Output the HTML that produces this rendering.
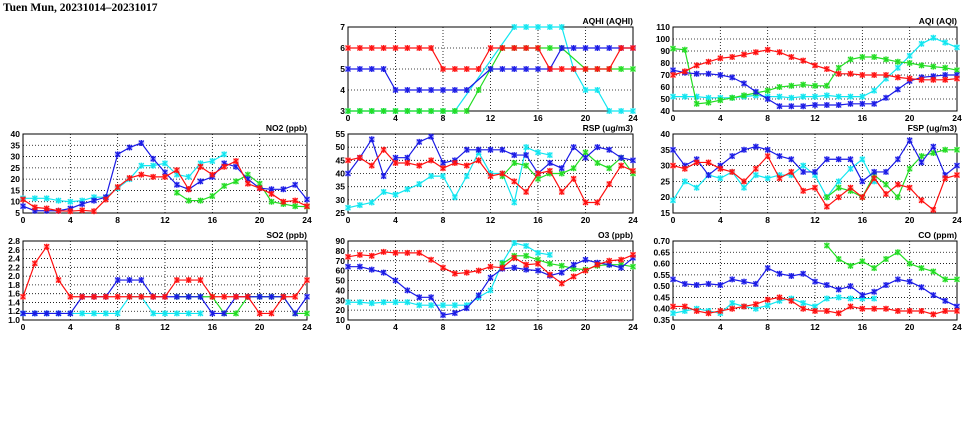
<!DOCTYPE html>
<html><head><meta charset="utf-8">
<style>
html,body{margin:0;padding:0;background:#fff;width:975px;height:447px;overflow:hidden}
svg{display:block}
text{font-family:"Liberation Sans",sans-serif;font-weight:bold;font-size:8.5px;fill:#000}
</style></head>
<body>
<svg id="chart" width="975" height="447" viewBox="0 0 975 447" xmlns="http://www.w3.org/2000/svg">
<text x="3" y="11" style="font-family:'Liberation Serif',serif;font-size:11.5px">Tuen Mun, 20231014–20231017</text>
</svg>
<script>
const N = null;
const hours = [0,1,2,3,4,5,6,7,8,9,10,11,12,13,14,15,16,17,18,19,20,21,22,23,24];
const xTicks = [0,4,8,12,16,20,24];

const aqhiRed   = [6,6,6,6,6,6,6,6,5,5,5,5,6,6,6,6,6,5,5,5,5,5,5,6,6];
const aqhiBlue  = [5,5,5,5,4,4,4,4,4,4,4,N,5,5,5,5,5,5,6,6,6,6,6,6,6];
const aqhiGreen = [3,3,3,3,3,3,3,3,3,3,3,4,5,6,6,6,6,6,6,N,5,5,5,5,5];
const aqhiCyan  = [3,3,3,3,3,3,3,3,3,3,N,N,N,N,7,7,7,7,7,5,4,4,3,3,3];
const aqhiTicks = [3,4,5,6,7];

const aqiRed   = [70,73,78,81,84,85,87,89,91,89,85,82,78,75,71,71,70,70,70,68,67,66,66,66,67];
const aqiBlue  = [74,72,71,71,70,68,63,56,50,44,44,44,45,45,45,46,46,46,51,58,65,68,69,70,70];
const aqiGreen = [92,91,46,47,49,51,53,55,57,60,61,62,61,61,76,83,85,85,83,81,80,78,77,76,74];
const aqiCyan  = [52,52,52,51,51,51,52,53,52,52,51,52,52,53,52,52,52,57,67,76,86,96,101,97,93];
const aqiTicks = [40,50,60,70,80,90,100,110];

const no2Blue  = [8,6,6,6,7,9,10.5,12,31,34,36,29,23,17.5,15.5,19,21,27,25.5,20,16,15.5,15.5,17.5,11];
const no2Red   = [11,7.5,7,6,5.8,6.2,5.8,11,16.5,20.5,22,21,21,24,15.5,25.5,22,25.5,28,18,16,13.5,10,10.5,8];
const no2Cyan  = [11.5,11.5,11.5,10.5,10,10.5,12,12,16,20,26,26,27,22,21,27,28,31,N,N,N,N,N,N,N];
const no2Green = [N,N,N,N,N,N,N,N,N,N,N,N,N,14,10.5,10.5,12.5,17,19,22,18,10,9,8,7.8];
const no2Ticks = [5,10,15,20,25,30,35,40];

const rspBlue  = [40,46,53,39,46,46,52,54,44,45,49,49,49,49,47,47,40,44,42,50,46,50,49,46,45];
const rspRed   = [45,46,43,49,44,44,43,45,42,44,43,45,39,40,37,33,40,41,33,38,29,29,36,43,41];
const rspCyan  = [27,28,29,33,32,34,36,39,39,31,39,48,40,40,29,50,48,47,N,N,N,N,N,N,N];
const rspGreen = [N,N,N,N,N,N,N,N,N,N,N,N,N,39,44,43,38,40,40,42,48,44,42,46,40];
const rspTicks = [25,30,35,40,45,50,55];

const fspBlue  = [35,30,32,27,30,33,35,36,35,33,32,28,28,32,32,32,25,28,28,32,38,31,36,27,30];
const fspRed   = [30,29,31,31,29,28,25,29,33,26,28,22,23,17,20,23,20,26,21,24,23,19,16,26,27];
const fspCyan  = [19,25,23,27,26,28,23,27,26,27,27,30,27,20,25,29,32,25,N,N,N,N,N,N,N];
const fspGreen = [N,N,N,N,N,N,N,N,N,N,N,N,N,20,23,22,20,27,24,20,29,33,34,35,35];
const fspTicks = [15,20,25,30,35,40];

const so2Red   = [1.53,2.29,2.67,1.91,1.53,1.53,1.53,1.53,1.53,1.53,1.53,1.53,1.53,1.91,1.91,1.91,1.53,1.53,1.53,1.53,1.15,1.15,1.53,1.53,1.91];
const so2Blue  = [1.15,1.15,1.15,1.15,1.15,1.53,1.53,1.53,1.91,1.91,1.91,1.53,1.53,1.53,1.53,1.53,1.15,1.15,1.53,1.53,1.53,1.53,1.53,1.15,1.53];
const so2Cyan  = [1.15,1.15,1.15,1.15,1.15,1.15,1.15,1.15,1.15,1.53,1.53,1.15,1.15,1.15,1.15,1.15,N,N,N,N,N,N,N,N,N];
const so2Green = [N,N,N,N,N,N,N,N,N,N,N,N,N,1.53,1.53,1.53,1.53,1.15,1.15,1.53,1.53,1.53,1.53,1.15,1.15];
const so2Ticks = [1.0,1.2,1.4,1.6,1.8,2.0,2.2,2.4,2.6,2.8];

const o3Red   = [74,76,75,79,78,78,78,71,63,57,58,60,64,63,73,66,67,56,47,54,60,66,70,71,76];
const o3Blue  = [64,64,61,58,50,40,33,33,15,17,22,35,53,62,63,61,60,55,58,66,71,68,66,63,73];
const o3Cyan  = [28,28,27,28,28,28,25,25,25,25,25,33,40,68,88,85,78,76,N,N,N,N,N,N,N];
const o3Green = [N,N,N,N,N,N,N,N,N,N,N,N,N,67,75,75,71,67,65,62,61,65,66,66,64];
const o3Ticks = [10,20,30,40,50,60,70,80,90];

const coBlue  = [.53,.51,.505,.51,.505,.53,.52,.51,.58,.555,.545,.555,.52,.505,.485,.50,.46,.475,.505,.53,.52,.495,.46,.435,.41];
const coRed   = [.41,.41,.39,.38,.39,.40,.41,.42,.44,.45,.435,.40,.39,.39,.38,.41,.40,.40,.40,.39,.39,.39,.375,.39,.39];
const coCyan  = [.38,.39,.40,.39,.38,.425,.41,.40,.415,.435,.445,.425,.41,.445,.45,.445,.445,.445,N,N,N,N,N,N,N];
const coGreen = [N,N,N,N,N,N,N,N,N,N,N,N,N,.68,.62,.59,.61,.58,.62,.65,.60,.58,.565,.53,.53];
const coTicks = [0.35,0.40,0.45,0.50,0.55,0.60,0.65,0.70];

const C = {red:'#ff1010', blue:'#1a1ae6', green:'#22dd22', cyan:'#11e6f0'};
const NS = 'http://www.w3.org/2000/svg';
const svg = document.getElementById('chart');
function mk(tag, attrs, parent){const e=document.createElementNS(NS,tag);for(const k in attrs)e.setAttribute(k,attrs[k]);(parent||svg).appendChild(e);return e;}

function panel(name, title, box, ticks, dec, series){
  const g = mk('g',{});
  
  
  const [x0,y0,x1,y1] = box;
  const ymin = ticks[0], ymax = ticks[ticks.length-1];
  const sx = v => x0 + (v-0)/(24-0)*(x1-x0);
  const sy = v => y1 - (v-ymin)/(ymax-ymin)*(y1-y0);
  // grid
  ticks.forEach((t,i)=>{
    if(i>0 && i<ticks.length-1) mk('line',{x1:x0,x2:x1,y1:sy(t),y2:sy(t),stroke:'#000','stroke-width':0.8,'stroke-dasharray':'1,2'},g);
    const tx = mk('text',{x:x0-3,y:sy(t)+3,'text-anchor':'end'},g);
    tx.textContent = t.toFixed(dec);
    
    
  });
  xTicks.forEach((t,i)=>{
    if(i>0 && i<xTicks.length-1) mk('line',{x1:sx(t),x2:sx(t),y1:y0,y2:y1,stroke:'#000','stroke-width':0.8,'stroke-dasharray':'1,2'},g);
    const tx = mk('text',{x:sx(t),y:y1+10,'text-anchor':'middle'},g);
    tx.textContent = t;
    
    
  });
  mk('rect',{x:x0,y:y0,width:x1-x0,height:y1-y0,fill:'none',stroke:'#000','stroke-width':1},g);
  const tt = mk('text',{x:x1,y:y0-3,'text-anchor':'end'},g);
  tt.textContent = title;
  
  
  series.forEach(([col, vals])=>{
    const pts=[];
    vals.forEach((v,i)=>{ if(v!==null) pts.push([sx(hours[i]), sy(v)]); });
    const pl = mk('polyline',{points:pts.map(p=>p.join(',')).join(' '),fill:'none',stroke:C[col],'stroke-width':1.2},g);
    
    
    pts.forEach(([px,py])=>{
      const m = mk('g',{},g);
      
      
      mk('circle',{cx:px,cy:py,r:3,fill:C[col],opacity:0.35},m);
      mk('path',{d:`M${px-2.5},${py-2.5}L${px+2.5},${py+2.5}M${px-2.5},${py+2.5}L${px+2.5},${py-2.5}M${px},${py-3}L${px},${py+3}`,stroke:C[col],'stroke-width':1.2},m);
    });
  });
}

const col1=[23,307], col2=[348,633], col3=[673,957];
const row1=[27,111], row2=[134,213], row3=[241,320];
panel('aqhi','AQHI (AQHI)',[col2[0],row1[0],col2[1],row1[1]],aqhiTicks,0,[['cyan',aqhiCyan],['green',aqhiGreen],['blue',aqhiBlue],['red',aqhiRed]]);
panel('aqi','AQI (AQI)',[col3[0],row1[0],col3[1],row1[1]],aqiTicks,0,[['cyan',aqiCyan],['green',aqiGreen],['blue',aqiBlue],['red',aqiRed]]);
panel('no2','NO2 (ppb)',[col1[0],row2[0],col1[1],row2[1]],no2Ticks,0,[['cyan',no2Cyan],['green',no2Green],['blue',no2Blue],['red',no2Red]]);
panel('rsp','RSP (ug/m3)',[col2[0],row2[0],col2[1],row2[1]],rspTicks,0,[['cyan',rspCyan],['green',rspGreen],['blue',rspBlue],['red',rspRed]]);
panel('fsp','FSP (ug/m3)',[col3[0],row2[0],col3[1],row2[1]],fspTicks,0,[['cyan',fspCyan],['green',fspGreen],['blue',fspBlue],['red',fspRed]]);
panel('so2','SO2 (ppb)',[col1[0],row3[0],col1[1],row3[1]],so2Ticks,1,[['cyan',so2Cyan],['green',so2Green],['blue',so2Blue],['red',so2Red]]);
panel('o3','O3 (ppb)',[col2[0],row3[0],col2[1],row3[1]],o3Ticks,0,[['cyan',o3Cyan],['green',o3Green],['blue',o3Blue],['red',o3Red]]);
panel('co','CO (ppm)',[col3[0],row3[0],col3[1],row3[1]],coTicks,2,[['cyan',coCyan],['green',coGreen],['blue',coBlue],['red',coRed]]);
</script>
</body></html>
